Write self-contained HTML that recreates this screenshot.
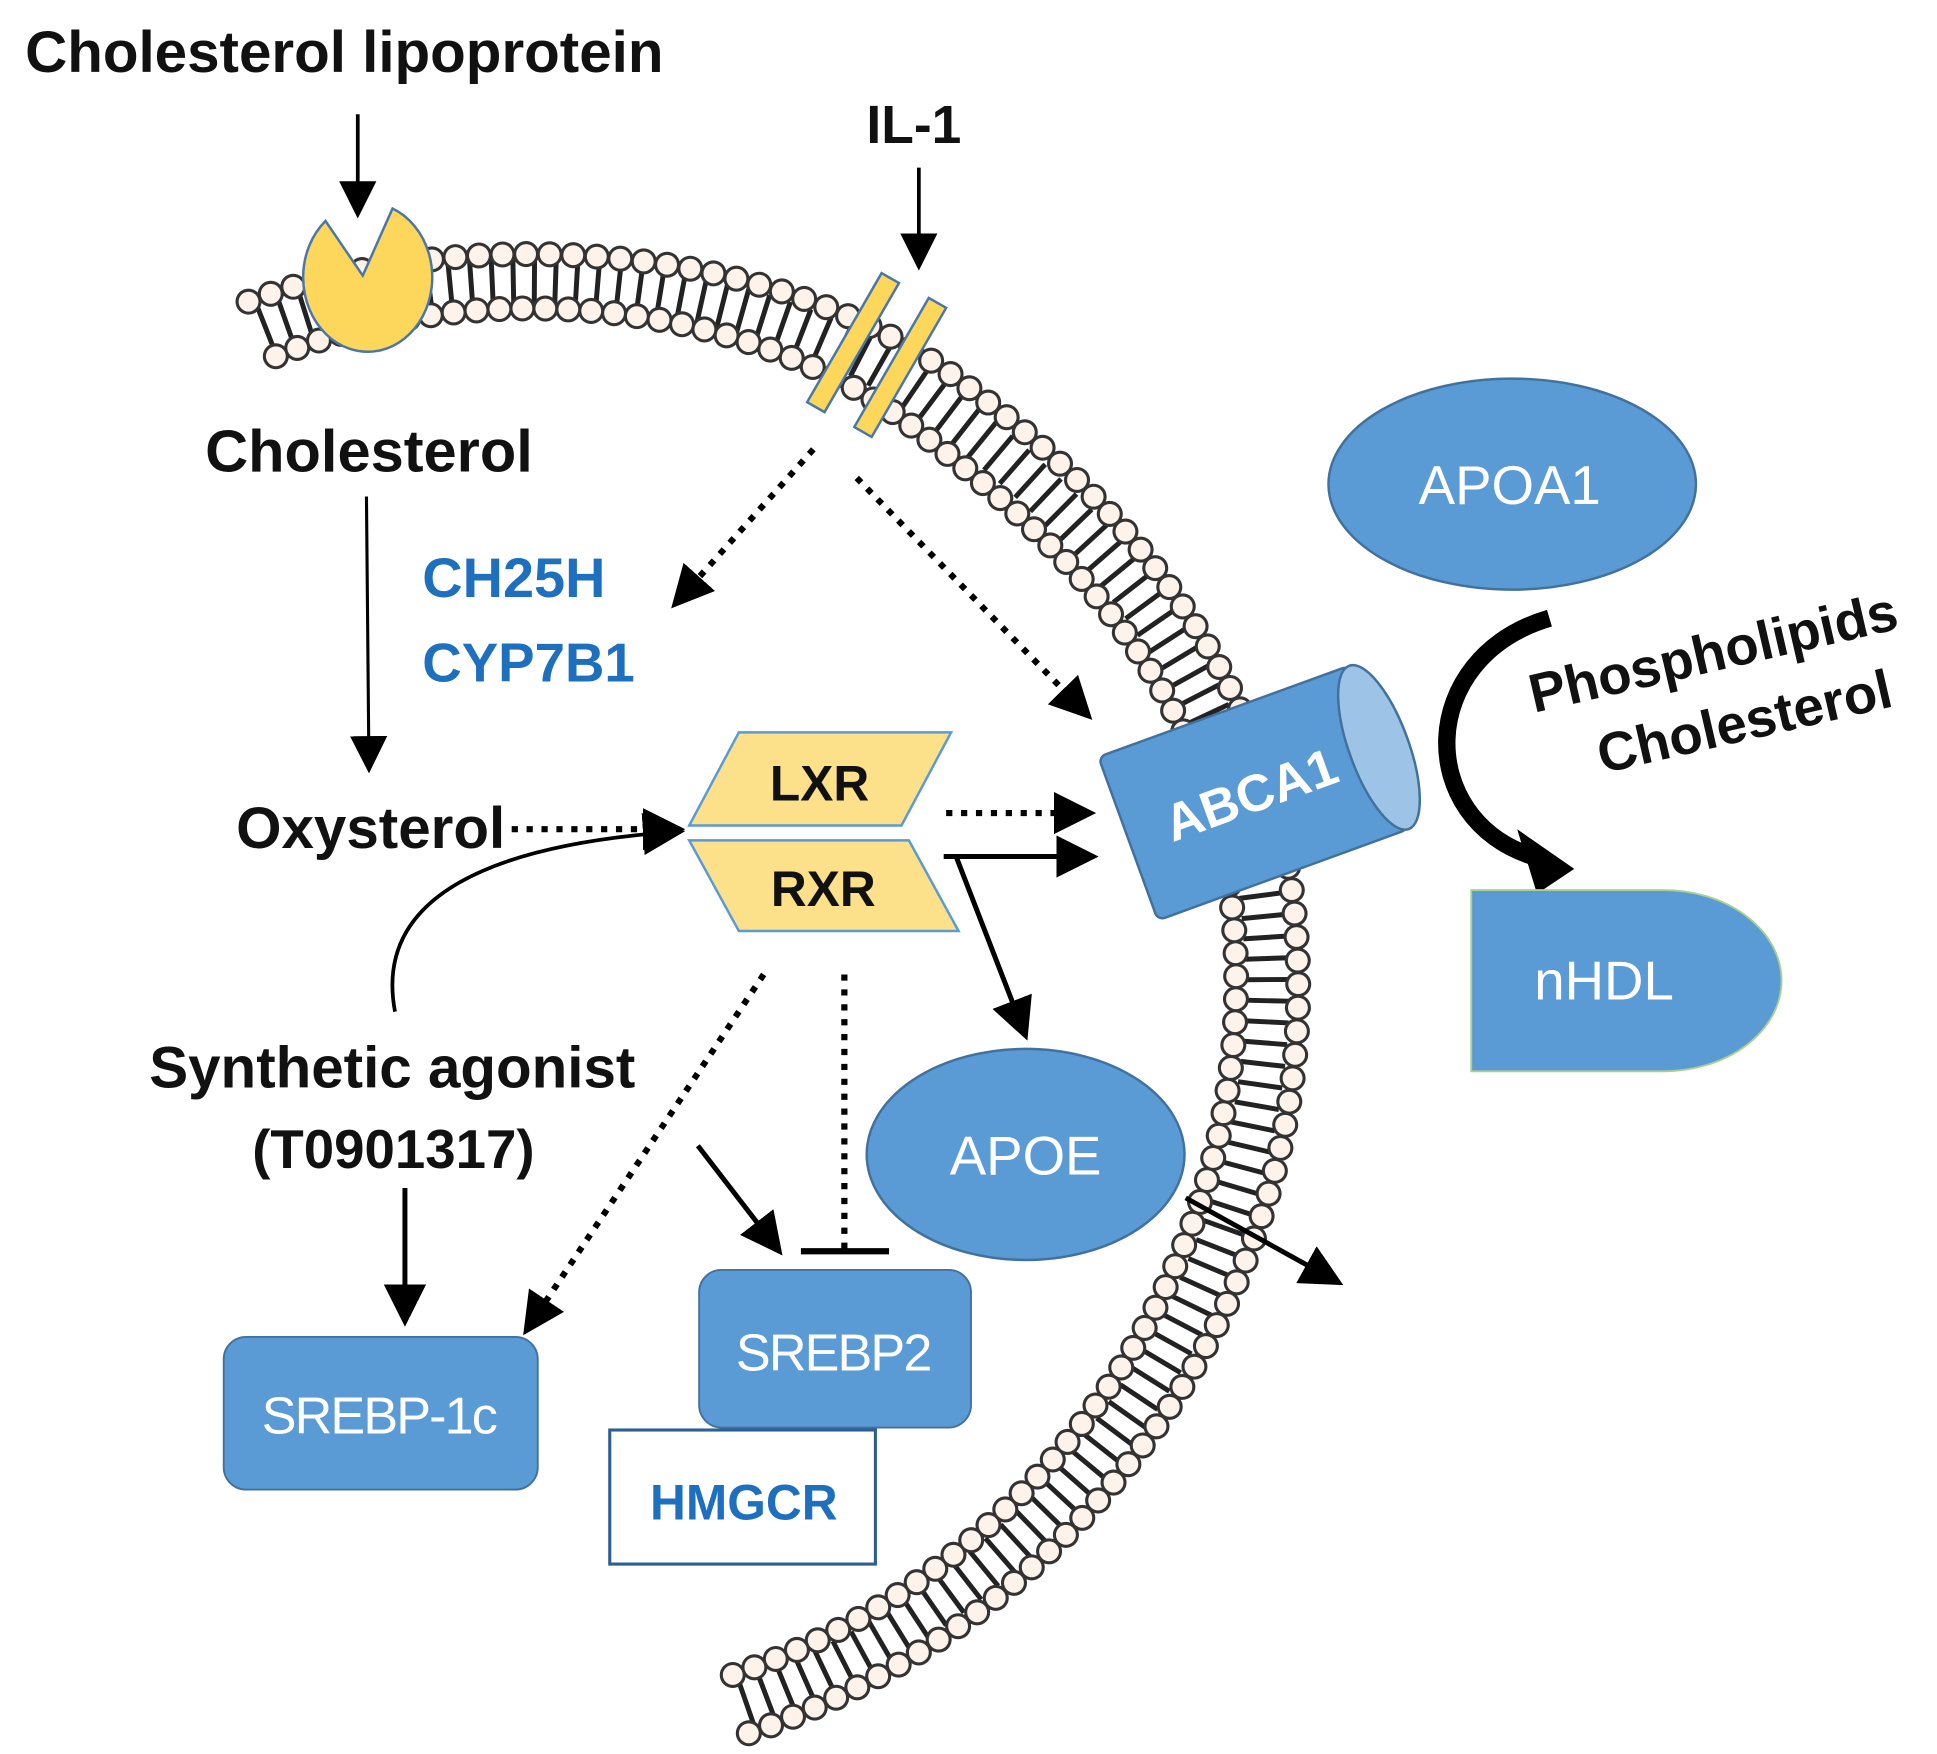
<!DOCTYPE html>
<html><head><meta charset="utf-8"><style>
html,body{margin:0;padding:0;background:#fff;}
svg{display:block;}
text{font-family:"Liberation Sans",sans-serif;}
.b{font-weight:bold;fill:#111;}
</style></head><body>
<svg width="1937" height="1754" viewBox="0 0 1560 1413" xmlns="http://www.w3.org/2000/svg">
<defs>
<marker id="a" viewBox="0 0 10 10" refX="8" refY="5" markerWidth="34" markerHeight="34" markerUnits="userSpaceOnUse" orient="auto"><path d="M0,0 L10,5 L0,10 z" fill="#000"/></marker>
<marker id="a2" viewBox="0 0 10 10" refX="8" refY="5" markerWidth="30" markerHeight="30" markerUnits="userSpaceOnUse" orient="auto"><path d="M0,0 L10,5 L0,10 z" fill="#000"/></marker>
</defs>

<!-- membrane tails -->
<path d="M 212 265 C 380 198, 620 218, 760 330 C 920 450, 1030 600, 1020 820 C 1010 1050, 850 1290, 590 1375" fill="none" stroke="#222" stroke-width="36" stroke-dasharray="4 13"/>
<g fill="none" stroke-linecap="round">
<path d="M 200 243 C 380 176, 632 196, 777 310 C 944 433, 1055 600, 1045 822 C 1035 1062, 868 1308, 598 1398" stroke="#333" stroke-width="21" stroke-dasharray="0 19"/>
<path d="M 200 243 C 380 176, 632 196, 777 310 C 944 433, 1055 600, 1045 822 C 1035 1062, 868 1308, 598 1398" stroke="#fdf3ea" stroke-width="16" stroke-dasharray="0 19"/>
<path d="M 222 287 C 385 220, 608 240, 743 350 C 896 467, 1005 600, 995 818 C 985 1038, 832 1272, 582 1352" stroke="#333" stroke-width="21" stroke-dasharray="0 18.5"/>
<path d="M 222 287 C 385 220, 608 240, 743 350 C 896 467, 1005 600, 995 818 C 985 1038, 832 1272, 582 1352" stroke="#fdf3ea" stroke-width="16" stroke-dasharray="0 18.5"/>
</g>

<text x="20" y="58" class="b" font-size="47">Cholesterol lipoprotein</text>
<line x1="288" y1="92" x2="288" y2="170" stroke="#000" stroke-width="3" marker-end="url(#a2)"/>
<path d="M 316 168 A 52 60 0 1 1 262 178 L 292 222 Z" fill="#fdd65c" stroke="#4a76a8" stroke-width="2"/>

<text x="736" y="115" class="b" font-size="43" text-anchor="middle">IL-1</text>
<line x1="740" y1="135" x2="740" y2="212" stroke="#000" stroke-width="3" marker-end="url(#a2)"/>
<g fill="#fdd65c" stroke="#4a76a8" stroke-width="2">
<polygon points="710,220 724,228 664,332 650,324"/>
<polygon points="748,240 762,248 702,352 688,344"/>
</g>

<text x="165" y="380" class="b" font-size="48">Cholesterol</text>
<line x1="295" y1="400" x2="297" y2="617" stroke="#000" stroke-width="2.5" marker-end="url(#a2)"/>

<text x="340" y="481" font-weight="bold" font-size="45" fill="#1f6fbf">CH25H</text>
<text x="340" y="549" font-weight="bold" font-size="44" fill="#1f6fbf">CYP7B1</text>

<g stroke="#000" stroke-width="5" stroke-dasharray="5 7" fill="none">
<line x1="655" y1="362" x2="545" y2="485" marker-end="url(#a)"/>
<line x1="690" y1="385" x2="875" y2="575" marker-end="url(#a)"/>
<line x1="412" y1="668" x2="545" y2="668" marker-end="url(#a)"/>
<line x1="762" y1="655" x2="876" y2="655" marker-end="url(#a)"/>
<line x1="615" y1="785" x2="425" y2="1070" marker-end="url(#a)"/>
<line x1="680" y1="785" x2="680" y2="1006"/>
</g>
<line x1="645" y1="1008" x2="716" y2="1008" stroke="#000" stroke-width="5"/>

<polygon points="595,590 766,590 726,665 555,665" fill="#fde08a" stroke="#5b9bd5" stroke-width="2"/>
<text x="660" y="645" class="b" font-size="40" text-anchor="middle" font-weight="normal">LXR</text>
<polygon points="555,677 732,677 772,750 595,750" fill="#fde08a" stroke="#5b9bd5" stroke-width="2"/>
<text x="663" y="730" class="b" font-size="40" text-anchor="middle">RXR</text>

<text x="190" y="683" class="b" font-size="47">Oxysterol</text>
<path d="M 318 815 C 300 720, 400 680, 545 670" fill="none" stroke="#000" stroke-width="3" marker-end="url(#a)"/>

<line x1="760" y1="690" x2="878" y2="690" stroke="#000" stroke-width="4" marker-end="url(#a)"/>
<line x1="770" y1="690" x2="825" y2="832" stroke="#000" stroke-width="4" marker-end="url(#a)"/>

<g transform="translate(1012,638) rotate(-20)">
<rect x="-110" y="-70" width="215" height="140" rx="6" fill="#5b9bd5" stroke="#41719c" stroke-width="2"/>
<ellipse cx="105" cy="0" rx="24" ry="70" fill="#9dc3e6" stroke="#41719c" stroke-width="2"/>
<text x="-5" y="15" font-size="42" font-weight="bold" fill="#fff" text-anchor="middle">ABCA1</text>
</g>

<ellipse cx="1218" cy="390" rx="148" ry="85" fill="#5b9bd5" stroke="#41719c" stroke-width="2"/>
<text x="1216" y="406" font-size="44" fill="#fff" text-anchor="middle">APOA1</text>

<path d="M 1248 498 C 1140 530, 1140 660, 1235 690" fill="none" stroke="#000" stroke-width="14"/>
<polygon points="1222,668 1268,700 1238,720" fill="#000"/>
<g transform="translate(1385,548) rotate(-13)">
<text x="0" y="-8" class="b" font-size="44" text-anchor="middle">Phospholipids</text>
<text x="12" y="52" class="b" font-size="44" text-anchor="middle">Cholesterol</text>
</g>

<path d="M 1185 717 L 1340 717 A 95 73 0 0 1 1340 863 L 1185 863 Z" fill="#5b9bd5" stroke="#a9d18e" stroke-width="1.5"/>
<text x="1292" y="805" font-size="44" fill="#fff" text-anchor="middle">nHDL</text>

<ellipse cx="826" cy="930" rx="128" ry="85" fill="#5b9bd5" stroke="#41719c" stroke-width="2"/>
<text x="826" y="946" font-size="44" fill="#fff" text-anchor="middle">APOE</text>
<line x1="955" y1="965" x2="1076" y2="1032" stroke="#000" stroke-width="4" marker-end="url(#a)"/>

<text x="120" y="876" class="b" font-size="47">Synthetic agonist</text>
<text x="203" y="941" class="b" font-size="44">(T0901317)</text>
<line x1="326" y1="957" x2="326" y2="1062" stroke="#000" stroke-width="4" marker-end="url(#a)"/>
<line x1="562" y1="923" x2="626" y2="1006" stroke="#000" stroke-width="4" marker-end="url(#a)"/>

<rect x="180" y="1077" width="253" height="123" rx="18" fill="#5b9bd5" stroke="#41719c" stroke-width="1.5"/>
<text x="305" y="1155" font-size="42" fill="#fff" text-anchor="middle" letter-spacing="-1.5">SREBP-1c</text>
<rect x="563" y="1023" width="219" height="127" rx="18" fill="#5b9bd5" stroke="#41719c" stroke-width="1.5"/>
<text x="671" y="1104" font-size="42" fill="#fff" text-anchor="middle" letter-spacing="-1.5">SREBP2</text>
<rect x="491" y="1152" width="214" height="108" fill="#fff" stroke="#2e5f94" stroke-width="2.5"/>
<text x="599" y="1224" font-weight="bold" font-size="40" fill="#1f6fbf" text-anchor="middle">HMGCR</text>
</svg>
</body></html>
